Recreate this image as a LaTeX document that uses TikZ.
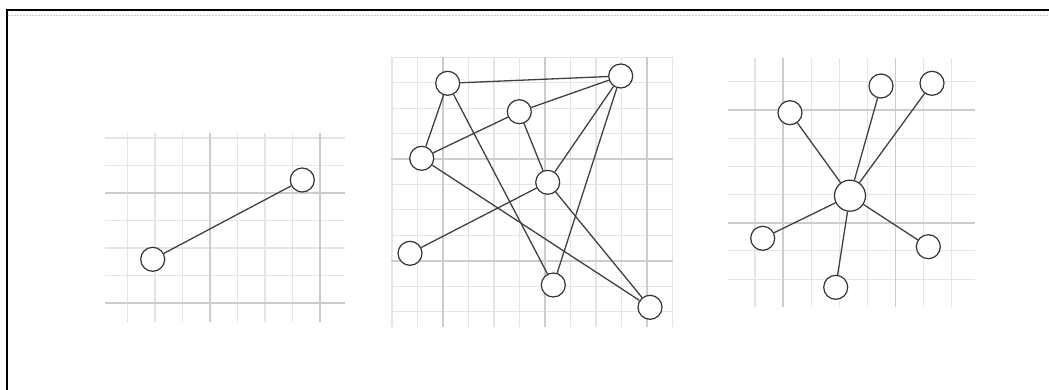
\documentclass[tikz,border=0pt]{standalone}
\usepackage{tikz}
\tikzset{
    vertex/.style={circle, draw=black!80, fill=white, line width=1.2pt, minimum size=24pt, inner sep=0pt},
    hubvertex/.style={vertex, minimum size=31pt},
    edge/.style={line width=1.3pt, draw=black!75},
    minorline/.style={draw=gray!20, line width=1.1pt},
    majorline/.style={draw=gray!40, line width=1.6pt},
    frameline/.style={draw=black, line width=1.5pt},
}

\begin{document}
\begin{tikzpicture}[x=1pt, y=-1pt]
    \useasboundingbox (0,0) rectangle (1049,390);

    % Frame
    \draw[frameline] (7,390) -- (7,10) -- (1049,10);
    \draw[gray!40, line width=0.8pt, dash pattern=on 2pt off 1pt] (8,15) -- (1049,15);

    % Grid 1
    \foreach \gx in {127.5,155,...,320} \draw[minorline] (\gx,133) -- (\gx,322);
    \foreach \gy in {138,165.5,...,304} \draw[minorline] (105,\gy) -- (345,\gy);
    \foreach \gx in {210,320} \draw[majorline] (\gx,133) -- (\gx,322);
    \foreach \gy in {193,303} \draw[majorline] (105,\gy) -- (345,\gy);

    % Grid 2
    \foreach \gx in {392,417.5,...,673} \draw[minorline] (\gx,57) -- (\gx,327);
    \foreach \gy in {57.5,82.9,...,312} \draw[minorline] (391,\gy) -- (673,\gy);
    \foreach \gx in {443,545,647} \draw[majorline] (\gx,57) -- (\gx,327);
    \foreach \gy in {159.1,260.7} \draw[majorline] (391,\gy) -- (673,\gy);

    % Grid 3
    \foreach \gx in {755,783.1,...,952} \draw[minorline] (\gx,58) -- (\gx,307);
    \foreach \gy in {81.7,109.9,...,280} \draw[minorline] (728,\gy) -- (975,\gy);
    \foreach \gx in {783.1,895.5} \draw[majorline] (\gx,58) -- (\gx,307);
    \foreach \gy in {109.9,222.7} \draw[majorline] (728,\gy) -- (975,\gy);

    % Graph 1: single edge
    \node[vertex] (lo) at (152.7,259.3) {};
    \node[vertex] (hi) at (302.3,180) {};
    \draw[edge] (lo) -- (hi);

    % Graph 2: crossing edges
    \node[vertex] (ga) at (447.7,83.3) {};
    \node[vertex] (gb) at (620.7,76) {};
    \node[vertex] (gc) at (519.3,111.7) {};
    \node[vertex] (gd) at (421.7,158.3) {};
    \node[vertex] (ge) at (547.7,182.3) {};
    \node[vertex] (gf) at (410,253.3) {};
    \node[vertex] (gg) at (553.3,285) {};
    \node[vertex] (gh) at (650,307.3) {};
    \draw[edge] (ga) -- (gb);
    \draw[edge] (ga) -- (gd);
    \draw[edge] (ga) -- (gg);
    \draw[edge] (gc) -- (gb);
    \draw[edge] (gc) -- (gd);
    \draw[edge] (gc) -- (ge);
    \draw[edge] (gd) -- (gh);
    \draw[edge] (gb) -- (ge);
    \draw[edge] (gb) -- (gg);
    \draw[edge] (ge) -- (gf);
    \draw[edge] (ge) -- (gh);

    % Graph 3: star
    \node[hubvertex] (hub) at (850,195.7) {};
    \node[vertex] (s1) at (790,112.7) {};
    \node[vertex] (s2) at (881,86) {};
    \node[vertex] (s3) at (932,83.3) {};
    \node[vertex] (s4) at (762.7,238.3) {};
    \node[vertex] (s5) at (835.7,287.3) {};
    \node[vertex] (s6) at (928.3,246.7) {};
    \foreach \s in {s1,s2,s3,s4,s5,s6} \draw[edge] (hub) -- (\s);
\end{tikzpicture}
\end{document}
